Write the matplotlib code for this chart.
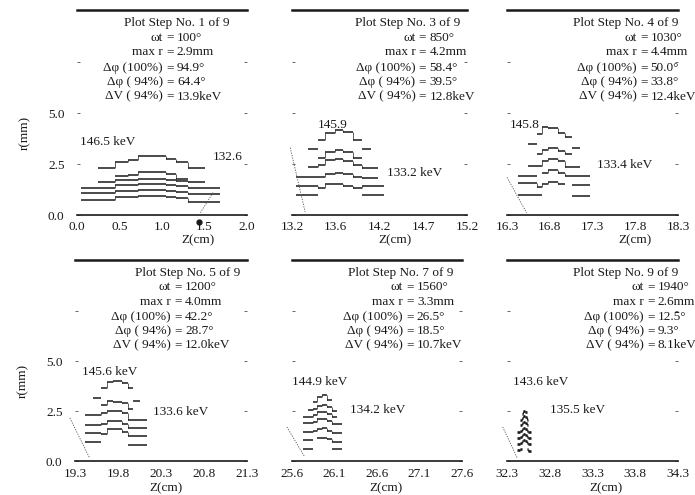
import numpy as np
import matplotlib.pyplot as plt
from matplotlib.ticker import FixedLocator, FixedFormatter

plt.rcParams['font.family'] = ['Liberation Serif', 'DejaVu Serif']

N = np.nan
INK = '#1a1a1a'
FS = 9.5

# ---- per-panel summary numbers ----
steps = [1, 3, 4, 5, 7, 9]
omega_t = [100, 850, 1030, 1200, 1560, 1940]
max_r = [2.9, 4.2, 4.4, 4.0, 3.3, 2.6]
dphi_100 = [94.9, 58.4, 50.0, 42.2, 26.5, 12.5]
dphi_94 = [64.4, 39.5, 33.8, 28.7, 18.5, 9.3]
dv_94 = [13.9, 12.8, 12.4, 12.0, 10.7, 8.1]

z_start = [0.0, 13.2, 16.3, 19.3, 25.6, 32.3]
z_ticklabels = [
    ["0.0", "0.5", "1.0", "1.5", "2.0"],
    ["13.2", "13.6", "14.2", "14.7", "15.2"],
    ["16.3", "16.8", "17.3", "17.8", "18.3"],
    ["19.3", "19.8", "20.3", "20.8", "21.3"],
    ["25.6", "26.1", "26.6", "27.1", "27.6"],
    ["32.3", "32.8", "33.3", "33.8", "34.3"],
]
r_ticks = [0.0, 2.5, 5.0, 7.5]
r_ticklabels = ["0.0", "2.5", "5.0", ""]

e_high = ["146.5 keV", "145.9", "145.8", "145.6 keV", "144.9 keV", "143.6 keV"]
e_low = ["132.6", "133.2 keV", "133.4 keV", "133.6 keV", "134.2 keV", "135.5 keV"]

# ---- stepped r(z) profiles: bin edges in cm, r in mm ----
edges_1 = [0.05, 0.25, 0.45, 0.6, 0.72, 1.05, 1.16, 1.3, 1.5, 1.68]
r_1 = [
    [N, 2.3, 2.6, 2.7, 2.9, 2.75, 2.6, 2.3, N],
    [N, N, 1.9, 1.95, 2.1, 2.0, 1.75, N, N],
    [N, 1.6, 1.7, 1.7, 1.75, 1.7, 1.65, 1.6, N],
    [1.3, 1.3, 1.45, 1.45, 1.5, 1.45, 1.4, 1.3, 1.3],
    [1.1, 1.1, 1.2, 1.2, 1.25, 1.2, 1.15, 1.05, 1.05],
    [0.75, 0.75, 0.9, 0.9, 0.95, 0.9, 0.85, 0.65, 0.65],
]

edges_2 = [13.25, 13.38, 13.5, 13.58, 13.69, 13.78, 13.9, 14.0, 14.1, 14.18, 14.25]
r_2 = [
    [N, N, 3.7, 4.0, 4.15, 4.05, 3.7, N, N, N],
    [N, 3.25, N, N, N, N, N, 3.25, N, N],
    [N, N, 2.8, 3.1, 3.2, 3.1, 2.8, N, N, N],
    [N, 2.35, 2.45, 2.7, 2.75, 2.65, 2.45, 2.3, 2.3, N],
    [1.85, 1.85, 1.85, 2.0, 2.05, 2.0, 1.85, 1.8, 1.8, N],
    [1.4, 1.4, 1.3, 1.5, 1.5, 1.4, 1.3, 1.4, 1.4, 1.4],
    [1.0, 1.0, N, N, N, N, N, 1.0, 1.0, 1.0],
]

edges_3 = [16.43, 16.55, 16.65, 16.71, 16.78, 16.9, 16.98, 17.06, 17.15, 17.27]
r_3 = [
    [N, N, 3.95, 4.3, 4.25, 4.0, 3.8, N, N],
    [N, 3.5, N, N, N, N, N, 3.3, N],
    [N, N, 3.0, 3.2, 3.3, 3.15, 3.0, N, N],
    [N, 2.4, 2.4, 2.65, 2.75, 2.65, 2.35, 2.35, N],
    [1.9, 1.9, N, 2.05, 2.2, 2.05, 1.9, 1.9, 1.9],
    [1.55, 1.55, 1.35, 1.5, 1.6, 1.5, N, 1.45, 1.45],
    [1.0, 1.0, 1.0, N, N, N, N, 0.95, 0.95],
]

edges_4 = [19.42, 19.51, 19.6, 19.67, 19.74, 19.85, 19.92, 19.98, 20.06, 20.14]
r_4 = [
    [N, N, 3.65, 3.95, 4.0, 3.9, 3.65, N, N],
    [N, 3.15, N, N, N, N, N, 3.0, N],
    [N, N, 2.8, 3.0, 2.95, 2.9, 2.6, N, N],
    [2.3, 2.3, 2.4, 2.5, 2.5, 2.4, 2.05, 2.05, 2.05],
    [1.8, 1.8, 1.85, 2.0, 2.0, 1.85, 1.65, 1.65, 1.65],
    [1.4, 1.4, 1.35, 1.6, 1.6, 1.45, 1.25, 1.25, 1.25],
    [0.95, 0.95, N, N, N, N, 0.8, 0.8, 0.8],
]

edges_5 = [25.73, 25.79, 25.85, 25.89, 25.95, 26.01, 26.07, 26.13, 26.19]
r_5 = [
    [N, N, 2.95, 3.2, 3.3, 3.05, N, N],
    [N, 2.55, 2.6, 2.75, 2.8, 2.7, 2.5, N],
    [2.2, 2.2, 2.3, 2.45, 2.45, 2.35, 2.2, N],
    [1.9, 1.9, 1.95, 2.1, 2.1, 2.0, 1.85, 1.85],
    [1.45, 1.45, 1.5, 1.6, 1.65, 1.5, 1.4, 1.4],
    [1.05, 1.05, N, 1.15, 1.15, 1.1, 0.95, 0.95],
    [0.6, 0.6, N, N, N, N, 0.6, 0.6],
]

edges_6 = [32.42, 32.45, 32.47, 32.49, 32.51, 32.53, 32.55, 32.58]
r_6 = [
    [N, N, 2.35, 2.5, 2.45, N, N],
    [N, 2.05, 2.15, 2.25, 2.2, 2.05, N],
    [N, 1.8, 1.9, 1.95, 1.9, 1.8, N],
    [1.45, 1.5, 1.6, 1.65, 1.6, 1.5, 1.45],
    [1.15, 1.2, 1.3, 1.35, 1.3, 1.2, 1.15],
    [0.85, 0.9, 1.0, 1.05, 1.0, 0.9, 0.85],
    [0.55, 0.6, N, N, N, 0.6, 0.5],
]

all_edges = [edges_1, edges_2, edges_3, edges_4, edges_5, edges_6]
all_r = [r_1, r_2, r_3, r_4, r_5, r_6]

# faint slanted dotted line in each panel: (z0, r0, z1, r1)
slant_lines = [
    (1.60, 1.1, 1.45, 0.1),
    (13.18, 3.3, 13.35, 0.15),
    (16.30, 1.85, 16.53, 0.1),
    (19.24, 2.15, 19.47, 0.15),
    (25.54, 1.7, 25.75, 0.2),
    (32.25, 1.7, 32.42, 0.15),
]
scan_blot = (1.44, -0.36)  # ink spot under panel 1 axis


def draw_profiles(ax, edges, profiles, lw):
    edges = np.asarray(edges)
    for prof in profiles:
        prof = np.asarray(prof, dtype=float)
        ok = ~np.isnan(prof)
        ax.hlines(prof[ok], edges[:-1][ok], edges[1:][ok], color=INK, lw=lw)
        for i in range(len(prof) - 1):
            if ok[i] and ok[i + 1]:
                ax.vlines(edges[i + 1], prof[i], prof[i + 1], color=INK, lw=lw * 0.45)


def stats_block(ax, k, eq_x, title_x):
    ys = [0.936, 0.865, 0.793, 0.717, 0.648, 0.578]
    ax.text(title_x, ys[0], f"Plot Step No. {steps[k]} of 9", transform=ax.transAxes,
            ha='right', va='center', fontsize=FS, color=INK)
    rows = [
        ("\u03c9t", f"{omega_t[k]}\u00b0"),
        ("max r", f"{max_r[k]:.1f}mm"),
        ("\u0394\u03c6 (100%)", f"{dphi_100[k]:.1f}\u00b0"),
        ("\u0394\u03c6 ( 94%)", f"{dphi_94[k]:.1f}\u00b0"),
        ("\u0394V ( 94%)", f"{dv_94[k]:.1f}keV"),
    ]
    for (lab, val), y in zip(rows, ys[1:]):
        kw = dict(xycoords='axes fraction', textcoords='offset points', va='center',
                  fontsize=FS, color=INK, annotation_clip=False)
        ax.annotate(lab, (eq_x, y), xytext=(-5, 0), ha='right', **kw)
        ax.annotate("=", (eq_x, y), xytext=(0, 0), ha='center', **kw)
        ax.annotate(val, (eq_x, y), xytext=(5, 0), ha='left', **kw)


fig = plt.figure(figsize=(6.95, 4.95), dpi=100)
W, H = 695.0, 495.0

# pixel frames: (left, right, top, bottom)
frames = [(77, 247, 10, 215), (292, 467, 10, 215), (507, 678, 10, 215),
          (75, 247, 260, 461), (292, 462, 260, 461), (507, 678, 260, 461)]
eq_cols = [0.547, 0.745, 0.80, 0.599, 0.694, 0.84]
title_rights = [0.90, 0.96, 1.0, 0.96, 0.947, 1.0]
high_pos = [(0.018, 0.356), (0.149, 0.439), (0.018, 0.439), (0.041, 0.443), (0.0, 0.393), (0.035, 0.393)]
low_pos = [(0.80, 0.283), (0.543, 0.205), (0.526, 0.244), (0.453, 0.244), (0.341, 0.254), (0.251, 0.254)]
xlabel_x = [0.71, 0.59, 0.75, 0.53, 0.55, 0.58]

for k, (l, r, t, b) in enumerate(frames):
    ax = fig.add_axes([l / W, (H - b) / H, (r - l) / W, (b - t) / H])
    row2 = k >= 3
    z0 = z_start[k]
    ax.set_xlim(z0, z0 + 2.0)
    ax.set_ylim(0, 10.05)

    draw_profiles(ax, all_edges[k], all_r[k], lw=1.9 if k == 5 else 1.1)
    za, ra, zb, rb = slant_lines[k]
    ax.plot([za, zb], [ra, rb], ls=(0, (1.5, 1.5)), lw=0.6, color='#555555', clip_on=False)

    ax.text(*high_pos[k], e_high[k], transform=ax.transAxes, fontsize=FS, color=INK, va='center')
    ax.text(*low_pos[k], e_low[k], transform=ax.transAxes, fontsize=FS, color=INK, va='center')
    stats_block(ax, k, eq_cols[k], title_rights[k])

    for s in ('left', 'right'):
        ax.spines[s].set_visible(False)
    ax.spines['top'].set_linewidth(1.8)
    ax.spines['top'].set_color(INK)
    ax.spines['bottom'].set_linewidth(1.2)
    ax.spines['bottom'].set_color(INK)

    ax.xaxis.set_major_locator(FixedLocator([z0 + 0.5 * i for i in range(5)]))
    ax.xaxis.set_major_formatter(FixedFormatter(z_ticklabels[k]))
    ax.tick_params(axis='x', length=0, pad=5 if row2 else 4, labelsize=FS, labelcolor=INK)

    ax.yaxis.set_major_locator(FixedLocator(r_ticks))
    ax.tick_params(axis='y', left=True, right=True, length=2, width=0.7, direction='in',
                   color='#666666', labelsize=FS, labelcolor=INK, pad=9)
    if k in (0, 3):
        ax.yaxis.set_major_formatter(FixedFormatter(r_ticklabels))
        ax.set_ylabel("r(mm)", fontsize=FS, color=INK)
        ax.yaxis.set_label_coords(-0.27, 0.40)
    else:
        ax.set_yticklabels([])

    ax.set_xlabel("Z(cm)", fontsize=FS, color=INK)
    ax.xaxis.set_label_coords(xlabel_x[k], -0.105 if row2 else -0.093)

    if k == 0:
        ax.plot(*scan_blot, 'o', ms=3.5, color=INK, clip_on=False)

fig.savefig("out.png", dpi=100, facecolor='white')
